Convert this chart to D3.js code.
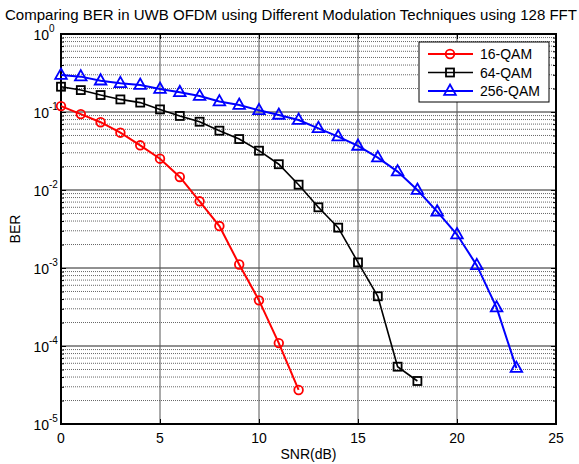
<!DOCTYPE html>
<html><head><meta charset="utf-8">
<script src="https://cdn.jsdelivr.net/npm/d3@7"></script>
<style>body{margin:0;background:#fff;}svg{display:block;font-family:"Liberation Sans",Arial,sans-serif;}</style>
</head><body>
<svg id="c" width="579" height="464"></svg>
<script>
const title = "Comparing BER in UWB OFDM using Different Modulation Techniques using 128 FFT";
const xLabel = "SNR(dB)";
const yLabel = "BER";
const xTicks = [0, 5, 10, 15, 20, 25];
const yExps = [0, -1, -2, -3, -4, -5];
const seriesNames = ["16-QAM", "64-QAM", "256-QAM"];
const seriesColors = ["#ff0000", "#000000", "#0000ff"];
const seriesMarkers = ["circle", "square", "triangle"];
const snr16 = [0,1,2,3,4,5,6,7,8,9,10,11,12];
const ber16 = [0.119,0.094,0.074,0.0543,0.0374,0.0252,0.0147,0.00716,0.00345,0.00111,0.000385,0.000109,0.0000273];
const snr64 = [0,1,2,3,4,5,6,7,8,9,10,11,12,13,14,15,16,17,18];
const ber64 = [0.211,0.191,0.165,0.145,0.132,0.108,0.089,0.075,0.0576,0.045,0.0319,0.0214,0.0117,0.006,0.00329,0.00118,0.000434,0.0000543,0.0000356];
const snr256 = [0,1,2,3,4,5,6,7,8,9,10,11,12,13,14,15,16,17,18,19,20,21,22,23];
const ber256 = [0.298,0.284,0.252,0.233,0.222,0.197,0.179,0.160,0.136,0.123,0.105,0.0916,0.079,0.0618,0.0483,0.0367,0.026,0.0172,0.0100,0.00527,0.00269,0.00108,0.00031,0.000052];

const svg = d3.select("#c");
const L = 61, R = 556, T = 34, B = 424;
const x = d3.scaleLinear().domain([0, 25]).range([L, R]);
const y = d3.scaleLog().domain([1e-5, 1]).range([B, T]);

// minor grid
const minor = [];
for (let e = -5; e < 0; e++) for (let m = 2; m <= 9; m++) minor.push(m * Math.pow(10, e));
const g = svg.append("g");
g.selectAll("line.minor").data(minor).join("line")
  .attr("x1", L).attr("x2", R).attr("y1", d => y(d)).attr("y2", d => y(d))
  .attr("stroke", "#666").attr("stroke-width", 1).attr("stroke-dasharray", "1,1");
// major grid
const majorY = yExps.map(e => Math.pow(10, e));
g.selectAll("line.majy").data(majorY.slice(1, -1)).join("line")
  .attr("x1", L).attr("x2", R).attr("y1", d => y(d)).attr("y2", d => y(d))
  .attr("stroke", "#222").attr("stroke-width", 1);
g.selectAll("line.majx").data(xTicks.slice(1, -1)).join("line")
  .attr("x1", d => x(d)).attr("x2", d => x(d)).attr("y1", T).attr("y2", B)
  .attr("stroke", "#555").attr("stroke-width", 1);

// axes (inner ticks)
const ax = svg.append("g");
const bottomAxis = d3.axisBottom(x).tickValues(xTicks).tickSize(-5).tickFormat("");
const topAxis = d3.axisTop(x).tickValues(xTicks).tickSize(-5).tickFormat("");
ax.append("g").attr("transform", `translate(0,${B})`).call(bottomAxis);
ax.append("g").attr("transform", `translate(0,${T})`).call(topAxis);
const leftAxis = d3.axisLeft(y).tickValues(minor).tickSize(-3).tickFormat("");
const rightAxis = d3.axisRight(y).tickValues(minor).tickSize(-3).tickFormat("");
const leftMajor = d3.axisLeft(y).tickValues(majorY).tickSize(-5).tickFormat("");
const rightMajor = d3.axisRight(y).tickValues(majorY).tickSize(-5).tickFormat("");
ax.append("g").attr("transform", `translate(${L},0)`).call(leftAxis);
ax.append("g").attr("transform", `translate(${R},0)`).call(rightAxis);
ax.append("g").attr("transform", `translate(${L},0)`).call(leftMajor);
ax.append("g").attr("transform", `translate(${R},0)`).call(rightMajor);
ax.selectAll(".domain").remove();
ax.selectAll("line").attr("stroke", "#000").attr("stroke-width", 1);
svg.append("rect").attr("x", L).attr("y", T).attr("width", R - L).attr("height", B - T)
  .attr("fill", "none").attr("stroke", "#000").attr("stroke-width", 2);

// tick labels
svg.selectAll("text.xt").data(xTicks).join("text")
  .attr("x", d => x(d)).attr("y", B + 19).attr("text-anchor", "middle")
  .attr("font-size", 14).text(d => d);
const yl = svg.selectAll("g.yt").data(yExps).join("g")
  .attr("transform", e => `translate(${L - 12},${y(Math.pow(10, e)) + 6})`);
yl.append("text").attr("text-anchor", "end").attr("font-size", 14).text("10");
yl.append("text").attr("x", 0).attr("y", -8).attr("font-size", 10).text(e => e === 0 ? "0" : e);

svg.append("text").attr("x", (L + R) / 2).attr("y", 459).attr("text-anchor", "middle")
  .attr("font-size", 14).text(xLabel);
svg.append("text").attr("transform", `translate(20,${(T + B) / 2}) rotate(-90)`)
  .attr("text-anchor", "middle").attr("font-size", 14).text(yLabel);
svg.append("text").attr("x", 291).attr("y", 20).attr("text-anchor", "middle")
  .attr("font-size", 14).attr("textLength", 572).attr("lengthAdjust", "spacingAndGlyphs").text(title);

// series
const datasets = [
  snr16.map((s, i) => [s, ber16[i]]),
  snr64.map((s, i) => [s, ber64[i]]),
  snr256.map((s, i) => [s, ber256[i]])
];
const line = d3.line().x(d => x(d[0])).y(d => y(d[1]));
function drawMarker(sel, type, color) {
  if (type === "circle") {
    sel.append("circle").attr("r", 4.3).attr("fill", "none").attr("stroke", color).attr("stroke-width", 1.8);
  } else if (type === "square") {
    sel.append("rect").attr("x", -4).attr("y", -4).attr("width", 8).attr("height", 8)
      .attr("fill", "none").attr("stroke", color).attr("stroke-width", 1.8);
  } else {
    sel.append("path").attr("d", "M0,-6.5L5.8,3.8L-5.8,3.8Z")
      .attr("fill", "none").attr("stroke", color).attr("stroke-width", 1.8);
  }
}
datasets.forEach((data, k) => {
  const gg = svg.append("g");
  gg.append("path").datum(data).attr("d", line).attr("fill", "none")
    .attr("stroke", seriesColors[k]).attr("stroke-width", k === 1 ? 1.6 : 2);
  const m = gg.selectAll("g.m").data(data).join("g")
    .attr("transform", d => `translate(${x(d[0])},${y(d[1])})`);
  drawMarker(m, seriesMarkers[k], seriesColors[k]);
});

// legend
const lg = svg.append("g");
lg.append("rect").attr("x", 419).attr("y", 42).attr("width", 130).attr("height", 60)
  .attr("fill", "#fff").attr("stroke", "#000").attr("stroke-width", 1);
seriesNames.forEach((n, k) => {
  const yy = 54 + k * 18.5;
  lg.append("line").attr("x1", 428).attr("x2", 473).attr("y1", yy).attr("y2", yy)
    .attr("stroke", seriesColors[k]).attr("stroke-width", k === 1 ? 1.6 : 2);
  drawMarker(lg.append("g").attr("transform", `translate(450,${yy})`), seriesMarkers[k], seriesColors[k]);
  lg.append("text").attr("x", 480).attr("y", yy + 5).attr("font-size", 14).text(n);
});
</script>
</body></html>
